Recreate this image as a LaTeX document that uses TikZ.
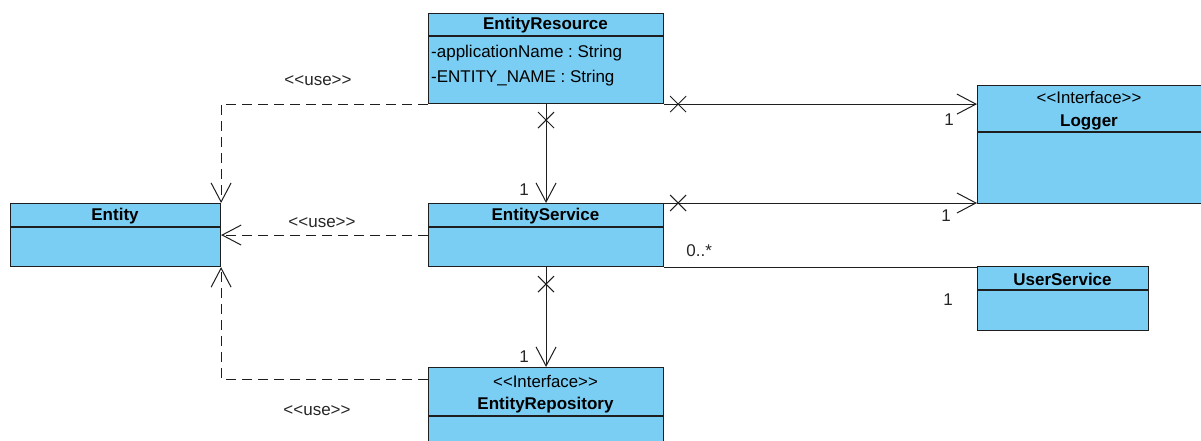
\documentclass[tikz,border=0pt]{standalone}
\usepackage{fontspec}
\setmainfont{Liberation Sans}
\usetikzlibrary{arrows.meta,shapes.misc,calc}
\definecolor{clsfill}{RGB}{122,206,244}
\definecolor{clsline}{RGB}{30,30,30}
\newcommand{\ltlt}{{<}{<}}
\newcommand{\gtgt}{{>}{>}}
\frenchspacing
\begin{document}
\begin{tikzpicture}[x=1pt,y=-1pt,
  every node/.style={font=\fontsize{17}{19}\selectfont},
  cls/.style={draw=clsline,fill=clsfill,line width=1.1pt,rectangle,inner sep=0pt,anchor=north west},
  divider/.style={draw=clsline,line width=1.1pt},
  title/.style={font=\fontsize{17}{19}\selectfont\bfseries,inner sep=0pt},
  stereo/.style={font=\fontsize{16.8}{19}\selectfont,inner sep=0pt},
  attr/.style={inner sep=0pt,anchor=west},
  lbl/.style={inner sep=0pt,text=black!85},
  dep/.style={draw=clsline,line width=1pt,dash pattern=on 10pt off 6pt,-{Straight Barb[length=19pt,width=20pt]}},
  assoc/.style={draw=clsline,line width=1pt,-{Straight Barb[length=19pt,width=20pt]}},
  plain/.style={draw=clsline,line width=1pt},
  xmark/.style={draw=clsline,line width=1pt,cross out,minimum size=15pt,inner sep=0pt}
]
\useasboundingbox (0,0) rectangle (1201,441);

% classes
\node[cls,minimum width=235pt,minimum height=90pt] (er) at (428,13) {};
\draw[divider] (428,36) -- (663,36);
\node[title] (ert) at (545.5,25) {EntityResource};
\node[attr] (era1) at (431,53) {-applicationName : String};
\node[attr] (era2) at (431,78) {-ENTITY\_NAME : String};

\node[cls,minimum width=210pt,minimum height=63pt] (en) at (10,203) {};
\draw[divider] (10,227) -- (220,227);
\node[title] (ent) at (115,216) {Entity};

\node[cls,minimum width=235pt,minimum height=63pt] (es) at (428,203) {};
\draw[divider] (428,227) -- (663,227);
\node[title] (est) at (545.5,216) {EntityService};

\node[cls,minimum width=226pt,minimum height=118pt] (lg) at (977,85) {};
\draw[divider] (977,132) -- (1203,132);
\node[stereo] (lgs) at (1089,98) {\ltlt Interface\gtgt};
\node[title] (lgt) at (1089,122) {Logger};

\node[cls,minimum width=171pt,minimum height=64pt] (us) at (977,266) {};
\draw[divider] (977,290) -- (1148,290);
\node[title] (ust) at (1062.5,279) {UserService};

\node[cls,minimum width=235pt,minimum height=100pt] (rep) at (428,367) {};
\draw[divider] (428,416) -- (663,416);
\node[stereo] (reps) at (545.5,381) {\ltlt Interface\gtgt};
\node[title] (rept) at (545.5,405) {EntityRepository};

% dependencies
\draw[dep] (er.south west) -| (en.north east)
  node[lbl,at start,xshift=-110pt,yshift=23pt] {\ltlt use\gtgt};
\draw[dep] (es.west) -- (en.east)
  node[lbl,at start,xshift=-106pt,yshift=12pt] {\ltlt use\gtgt};
\draw[dep] ([yshift=-12pt]rep.north west) -| (en.south east)
  node[lbl,at start,xshift=-111pt,yshift=-32pt] {\ltlt use\gtgt};

% associations
\draw[assoc] (er.south) -- (es.north)
  node[xmark,at start,yshift=-16pt] {}
  node[lbl,at end,xshift=-22pt,yshift=13pt] {1};
\draw[assoc] (es.south) -- (rep.north)
  node[xmark,at start,yshift=-17pt] {}
  node[lbl,at end,xshift=-22pt,yshift=10pt] {1};
\draw[assoc] (er.south east) -- (lg.west |- er.south east)
  node[xmark,at start,xshift=14pt] {}
  node[lbl,at end,xshift=-28pt,yshift=-16pt] {1};
\draw[assoc] (es.north east) -- (lg.west |- es.north east)
  node[xmark,at start,xshift=14pt] {}
  node[lbl,at end,xshift=-31pt,yshift=-13pt] {1};
\draw[plain] (es.south east) -- (us.west |- es.south east)
  node[lbl,at start,xshift=35pt,yshift=16pt] {0..*}
  node[lbl,at end,xshift=-29pt,yshift=-33pt] {1};
\end{tikzpicture}
\end{document}
